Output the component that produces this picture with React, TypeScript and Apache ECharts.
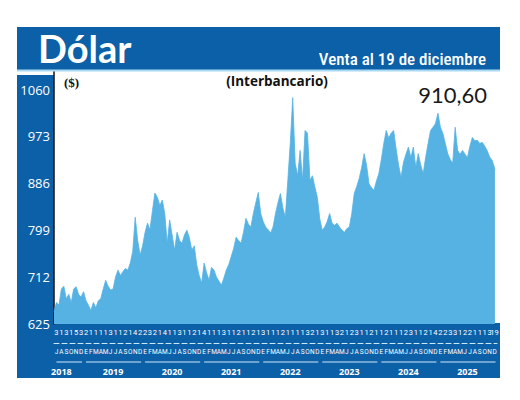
import React, { useEffect, useRef } from "react";
import * as echarts from "echarts";

// ---- data (semi-monthly readings, CLP per USD) ----
const v2018 = [648, 665, 660, 690, 695, 672, 680, 665, 690, 694, 680, 675];
const v2019 = [685, 668, 660, 650, 665, 655, 668, 672, 690, 706, 695, 688, 690, 712, 725, 715, 722, 728, 725, 738, 760, 823, 780, 753];
const v2020 = [770, 795, 812, 800, 835, 868, 860, 845, 855, 830, 775, 818, 790, 762, 795, 780, 775, 790, 799, 785, 762, 770, 735, 715];
const v2021 = [701, 738, 720, 706, 730, 725, 712, 705, 697, 710, 725, 735, 750, 765, 786, 780, 775, 795, 821, 810, 805, 830, 850, 869];
const v2022 = [830, 815, 805, 800, 794, 805, 830, 850, 867, 840, 823, 891, 960, 1045, 923, 900, 947, 891, 984, 979, 891, 900, 879, 860];
const v2023 = [820, 799, 805, 815, 830, 812, 808, 812, 805, 799, 795, 802, 805, 830, 867, 880, 895, 915, 941, 920, 885, 878, 873, 890];
const v2024 = [904, 930, 960, 984, 970, 979, 984, 950, 920, 897, 925, 940, 953, 934, 953, 916, 941, 920, 904, 934, 960, 984, 990, 997];
const v2025 = [1016, 990, 979, 960, 941, 930, 923, 990, 947, 940, 947, 940, 934, 955, 971, 965, 966, 960, 962, 955, 947, 935, 929, 915];
const lastDay = 19;
const lastValue = 910.6;

const yearLabels = ["2018", "2019", "2020", "2021", "2022", "2023", "2024", "2025"];
const yearMonthCounts = [6, 12, 12, 12, 12, 12, 12, 12];
const monthLetters2018 = ["J", "A", "S", "O", "N", "D"];
const monthLettersYear = ["E", "F", "M", "A", "M", "J", "J", "A", "S", "O", "N", "D"];
const dayLabels = [
  "3", "1", "3", "1", "5", "3", "2", "1", "1", "1", "1", "3", "1", "1", "2", "1", "4", "2", "2", "3", "2", "1", "4", "1", "1", "3", "1", "1", "2", "1",
  "4", "1", "1", "1", "3", "1", "1", "2", "1", "1", "2", "1", "3", "1", "1", "1", "2", "1", "1", "1", "1", "3", "2", "1", "3", "1", "1", "3", "2", "1",
  "2", "3", "1", "1", "2", "1", "1", "2", "1", "1", "1", "2", "3", "1", "1", "2", "1", "4", "2", "2", "3", "3", "1", "2", "2", "1", "1", "1", "3", "19",
];
const yTicks = [625, 712, 799, 886, 973, 1060];
const yStep = 87;

const DARK = "#0c60a7";
const FILL = "#55b2e3";
const LIGHT = "#cfe7f7";

export default function App() {
  const ref = useRef<HTMLDivElement>(null);

  useEffect(() => {
    if (!ref.current) return;
    const chart = echarts.init(ref.current, null, { renderer: "svg" });

    const all = [...v2018, ...v2019, ...v2020, ...v2021, ...v2022, ...v2023, ...v2024, ...v2025];
    const data: number[][] = all.map((v, i) => [i * 0.5, v]);
    const totalMonths = yearMonthCounts.reduce((a, b) => a + b, 0);
    data.push([totalMonths - 1 + (lastDay - 1) / 31, lastValue]);

    const monthLabels: string[] = [];
    yearMonthCounts.forEach((c, i) => {
      monthLabels.push(...(i === 0 ? monthLetters2018 : monthLettersYear));
    });

    const yearSpans: number[][] = [];
    const yearCenters: Record<string, string> = {};
    let acc = 0;
    yearMonthCounts.forEach((c, i) => {
      yearSpans.push([acc, acc + c]);
      const center = i === 0 ? acc + 1.5 : acc + c / 2;
      yearCenters[center.toFixed(1)] = yearLabels[i];
      acc += c;
    });

    const yMin = yTicks[0];
    const yMax = 1092.5;

    const option: any = {
      animation: false,
      grid: { left: 54, right: 23, top: 72, bottom: 76, containLabel: false },
      graphic: [
        { type: "rect", z: -10, shape: { x: 17, y: 27, width: 483, height: 43 }, style: { fill: DARK } },
        { type: "rect", z: -10, shape: { x: 17, y: 69.5, width: 483, height: 2 }, style: { fill: "#a9daf4" } },
        { type: "rect", z: -10, shape: { x: 17, y: 75, width: 37, height: 303 }, style: { fill: DARK } },
        { type: "rect", z: -10, shape: { x: 17, y: 323, width: 483, height: 55 }, style: { fill: DARK } },
        {
          type: "text", z: 100, x: 38, y: 48,
          style: { text: "Dólar", fill: "#ffffff", font: "bold 38px Lato, 'Open Sans', sans-serif", verticalAlign: "middle", align: "left" },
        },
        {
          type: "text", z: 100, x: 486, y: 59,
          style: { text: "Venta al 19 de diciembre", fill: "#ffffff", font: "500 17px 'Roboto Condensed', 'Liberation Sans Narrow', Roboto, sans-serif", verticalAlign: "middle", align: "right" },
        },
        {
          type: "text", z: 100, x: 64, y: 82,
          style: { text: "($)", fill: "#111111", font: "bold 13px 'Liberation Serif', serif", verticalAlign: "middle", align: "left" },
        },
        {
          type: "text", z: 100, x: 277, y: 81,
          style: { text: "(Interbancario)", fill: "#111111", font: "bold 13.5px 'Open Sans', sans-serif", verticalAlign: "middle", align: "center" },
        },
        {
          type: "text", z: 100, x: 487, y: 94,
          style: { text: "910,60", fill: "#1a1a1a", font: "22px Lato, sans-serif", verticalAlign: "middle", align: "right" },
        },
      ],
      xAxis: [
        { type: "value", min: 0, max: totalMonths, show: false },
        {
          type: "category", data: dayLabels, position: "bottom", boundaryGap: true,
          axisLine: { show: false }, axisTick: { show: false }, splitLine: { show: false },
          axisLabel: {
            interval: 0, color: "#ffffff", fontSize: 7.5, margin: 4, fontFamily: "Roboto, sans-serif",
            formatter: (v: string) => v,
            rich: {},
          },
        },
        {
          type: "category", data: monthLabels, position: "bottom", boundaryGap: true,
          axisLine: { show: false }, axisTick: { show: false }, splitLine: { show: false },
          axisLabel: { interval: 0, color: "#ffffff", fontSize: 6.5, margin: 24, fontFamily: "Roboto, sans-serif" },
        },
        {
          type: "category", data: monthLabels, position: "bottom", offset: 19, boundaryGap: true,
          axisLine: { show: true, lineStyle: { color: LIGHT, width: 1, type: [5, 3] } },
          axisTick: { show: false }, axisLabel: { show: false }, splitLine: { show: false },
        },
        {
          type: "value", min: 0, max: totalMonths, interval: 1.5, position: "bottom",
          axisLine: { show: false }, axisTick: { show: false }, splitLine: { show: false },
          axisLabel: {
            color: "#ffffff", fontSize: 9, fontWeight: "bold", margin: 43, fontFamily: "'Open Sans', sans-serif",
            showMinLabel: true, showMaxLabel: true, hideOverlap: false,
            formatter: (v: number) => yearCenters[v.toFixed(1)] || "",
          },
        },
      ],
      yAxis: {
        type: "value", min: yMin, max: yMax, interval: yStep,
        axisLine: { show: true, lineStyle: { color: "#111111", width: 1.5 } },
        axisTick: { show: false }, splitLine: { show: false },
        axisLabel: {
          color: "#ffffff", fontSize: 13, margin: 4, fontFamily: "'Open Sans', sans-serif",
          showMaxLabel: false,
          formatter: (v: number) => (yTicks.some((t) => Math.abs(t - v) < 0.01) ? String(v) : ""),
        },
      },
      series: [
        {
          type: "line", xAxisIndex: 0, yAxisIndex: 0, data, symbol: "none", showSymbol: false,
          lineStyle: { color: FILL, width: 0.8 },
          areaStyle: { color: FILL, opacity: 1, origin: "start" },
          silent: true,
        },
        {
          type: "custom", xAxisIndex: 0, yAxisIndex: 0, clip: false, silent: true,
          data: yearSpans,
          renderItem: (params: any, api: any) => {
            const p1 = api.coord([api.value(0) + 0.5, yMin]);
            const p2 = api.coord([api.value(1) - 0.3, yMin]);
            return {
              type: "line",
              shape: { x1: p1[0], y1: p1[1] + 38, x2: p2[0], y2: p2[1] + 38 },
              style: { stroke: LIGHT, lineWidth: 1 },
            };
          },
        },
      ],
    };

    chart.setOption(option);
    return () => chart.dispose();
  }, []);

  return (
    <div
      ref={ref}
      style={{ position: "fixed", left: 0, top: 0, width: 520, height: 400, background: "#ffffff" }}
    />
  );
}
